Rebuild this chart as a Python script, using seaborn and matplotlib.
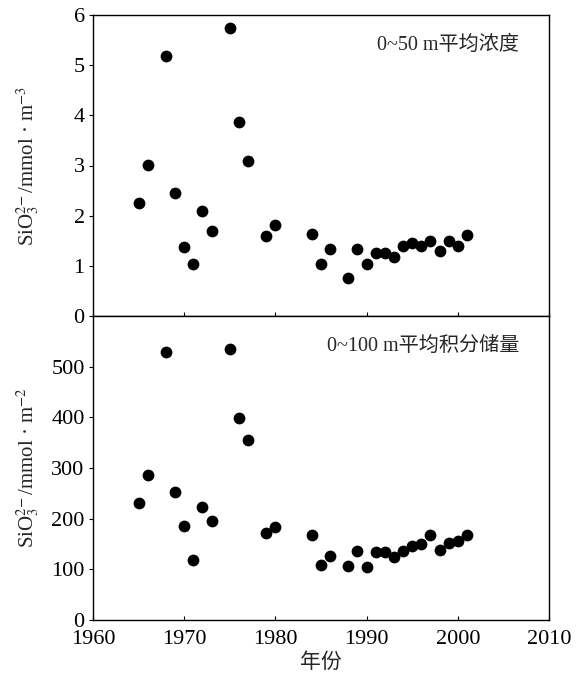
import matplotlib
matplotlib.use("Agg")
import matplotlib.pyplot as plt
import seaborn as sns
import pandas as pd

years_top = [1965, 1966, 1968, 1969, 1970, 1971, 1972, 1973, 1975, 1976, 1977,
             1979, 1980, 1984, 1985, 1986, 1988, 1989, 1990, 1991, 1992, 1993,
             1994, 1995, 1996, 1997, 1998, 1999, 2000, 2001]
conc_0_50 = [2.25, 3.01, 5.19, 2.45, 1.37, 1.04, 2.10, 1.70, 5.75, 3.86, 3.08,
             1.59, 1.81, 1.63, 1.04, 1.33, 0.75, 1.33, 1.04, 1.25, 1.25, 1.18,
             1.40, 1.46, 1.40, 1.49, 1.30, 1.49, 1.39, 1.61]
years_bot = years_top
stock_0_100 = [230, 286, 529, 253, 185, 119, 223, 196, 534, 398, 356,
               172, 184, 168, 108, 127, 107, 137, 104, 135, 135, 124,
               137, 147, 150, 167, 139, 151, 155, 167]

label_top = "0~50 m平均浓度"
label_bot = "0~100 m平均积分储量"
ylabel_top = r"SiO$_3^{2\!-}$/mmol · m$^{-3}$"
ylabel_bot = r"SiO$_3^{2\!-}$/mmol · m$^{-2}$"
xlabel = "年份"
xticks = [1960, 1970, 1980, 1990, 2000, 2010]
yticks_top = [0, 1, 2, 3, 4, 5, 6]
yticks_bot = [0, 100, 200, 300, 400, 500]

sns.set_theme(style="ticks")
plt.rcParams['font.family'] = ['Liberation Serif', 'Noto Sans CJK SC', 'DejaVu Sans']
plt.rcParams['mathtext.fontset'] = 'stix'

df_top = pd.DataFrame({"year": years_top, "value": conc_0_50})
df_bot = pd.DataFrame({"year": years_bot, "value": stock_0_100})

fig = plt.figure(figsize=(5.86, 6.79), dpi=100)
L, W = 93 / 586, (549 - 93) / 586
ax1 = fig.add_axes([L, 1 - 316 / 679, W, (316 - 15) / 679])
ax2 = fig.add_axes([L, 1 - 620 / 679, W, (620 - 316) / 679])

fs_tick = 16
fs_lab = 15
fs_txt = 14.5
for ax, df, yt, ylim, lab, ylab in [
    (ax1, df_top, yticks_top, (0, 6), label_top, ylabel_top),
    (ax2, df_bot, yticks_bot, (0, 600), label_bot, ylabel_bot),
]:
    sns.scatterplot(data=df, x="year", y="value", ax=ax, color="black",
                    s=72, edgecolor="black", linewidth=0, legend=False, zorder=3)
    ax.set_xlim(1960, 2010)
    ax.set_ylim(*ylim)
    ax.set_xticks(xticks)
    ax.set_yticks(yt)
    ax.set_ylabel(ylab, fontsize=fs_lab)
    ax.set_xlabel("")
    for s in ax.spines.values():
        s.set_linewidth(1.0)
        s.set_color("black")
    ax.tick_params(axis="y", direction="out", length=3, width=0.8, labelsize=fs_tick, pad=3, colors="black")
    ax.tick_params(axis="x", direction="in", length=3, width=0.8, labelsize=fs_tick, pad=7.5, colors="black")
    ax.text(0.935, 0.90, lab, transform=ax.transAxes, ha="right", va="center", fontsize=fs_txt)

ax1.tick_params(axis="x", labelbottom=False)
ax2.set_xlabel(xlabel, fontsize=fs_lab, labelpad=3)
ax1.yaxis.set_label_coords(-0.115, 0.5)
ax2.yaxis.set_label_coords(-0.115, 0.5)

fig.savefig("out.png", dpi=100)
